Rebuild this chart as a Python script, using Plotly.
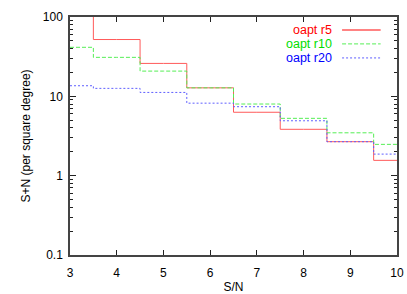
import plotly.graph_objects as go

sn = [3, 4, 5, 6, 7, 8, 9, 10]
r5 = [150, 52, 26, 12.8, 6.3, 3.84, 2.68, 1.56]
r10 = [41.5, 31, 20.8, 12.8, 8.0, 5.28, 3.47, 2.48]
r20 = [13.6, 12.6, 11.2, 8.2, 7.4, 4.92, 2.68, 1.87]
names = ["oapt r5", "oapt r10", "oapt r20"]
line_colors = ["#ff5a5a", "#55ee55", "#5f5fff"]
text_colors = ["#ff0000", "#00dd00", "#0000ff"]
dashes = ["solid", "4px,2px", "2px,2px"]

fig = go.Figure()
for ys, nm, lc, ds in zip([r5, r10, r20], names, line_colors, dashes):
    fig.add_trace(go.Scatter(x=sn, y=ys, mode="lines", name=nm,
                             line=dict(color=lc, width=1, dash=ds, shape="hvh"),
                             showlegend=False, hoverinfo="skip"))

# custom legend (gnuplot style: text right, sample line on the right)
leg_y = [0.945, 0.887, 0.828]
for nm, tc, lc, ds, yy in zip(names, text_colors, line_colors, dashes, leg_y):
    fig.add_annotation(xref="paper", yref="paper", x=0.807, y=yy, text=nm,
                       showarrow=False, xanchor="right", yanchor="middle",
                       font=dict(color=tc, size=12.5, family="Liberation Sans"))
    fig.add_shape(type="line", xref="paper", yref="paper", x0=0.832, x1=0.95,
                  y0=yy, y1=yy, line=dict(color=lc, width=1.5 if ds == "solid" else 1, dash=ds))

axis_common = dict(showline=True, linecolor="#444", linewidth=1.5, mirror="ticks",
                   ticks="inside", tickcolor="#222", showgrid=False, zeroline=False,
                   automargin=False,
                   tickfont=dict(size=12, color="black", family="Liberation Sans"))

fig.update_xaxes(range=[3, 10], dtick=1, ticklen=5, ticklabelstandoff=6,
                 title=dict(text="S/N", font=dict(size=12, family="Liberation Sans"), standoff=6),
                 **axis_common)
fig.update_yaxes(type="log", range=[-1, 2], dtick=1, ticklen=6, ticklabelstandoff=3,
                 tickvals=[0.1, 1, 10, 100], ticktext=["0.1", "1", "10", "100"],
                 minor=dict(ticks="inside", ticklen=3, tickvals=[v * m for v in [0.1, 1, 10] for m in range(2, 10)],
                            tickcolor="#222"),
                 title=dict(text="S+N (per square degree)", font=dict(size=12, family="Liberation Sans"), standoff=10),
                 **axis_common)

fig.update_layout(width=407, height=294, margin=dict(l=70, r=10, t=17, b=39),
                  plot_bgcolor="white", paper_bgcolor="white",
                  font=dict(family="Liberation Sans", size=12, color="black"))
fig.write_html("out.html", config={"displayModeBar": False},
               post_script="document.body.style.margin='0px';document.body.style.overflow='hidden';")
